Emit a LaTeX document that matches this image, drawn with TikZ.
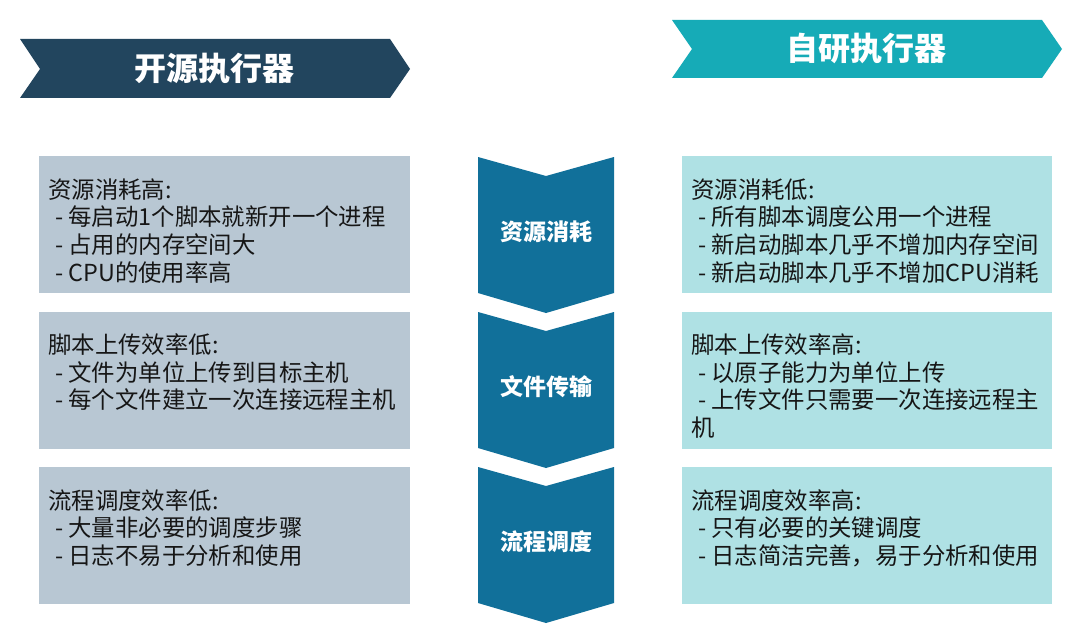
\documentclass[tikz,border=0pt]{standalone}
\usepackage{fontspec}
\setmainfont{Noto Sans CJK SC}
\newfontfamily\cjk{Noto Sans CJK SC}
\definecolor{hdrL}{HTML}{22455E}
\definecolor{hdrR}{HTML}{16ABB7}
\definecolor{chev}{HTML}{11709A}
\definecolor{boxL}{HTML}{B8C7D3}
\definecolor{boxR}{HTML}{AFE1E4}
\definecolor{txt}{HTML}{161616}
\begin{document}
\begin{tikzpicture}[x=1pt,y=-1pt,
  hdrtext/.style={text=white,font=\cjk\bfseries\fontsize{32}{36}\selectfont,inner sep=0pt},
  chevtext/.style={text=white,font=\cjk\bfseries\fontsize{23}{27}\selectfont,inner sep=0pt},
  bodytext/.style={text=txt,font=\cjk\fontsize{23.4}{27.7}\selectfont,align=left,inner sep=0pt,anchor=base west},
  lbox/.style={fill=boxL,draw=none},
  rbox/.style={fill=boxR,draw=none}]
\useasboundingbox (0,0) rectangle (1080,642);
\fill[white] (0,0) rectangle (1080,642);
% headers
\fill[hdrL] (20,39) -- (390,39) -- (410,69) -- (390,98) -- (20,98) -- (40,69) -- cycle;
\node[hdrtext] (hL) at (214,68) {开源执行器};
\fill[hdrR] (672,20) -- (1042,20) -- (1062,49) -- (1042,78) -- (672,78) -- (692,49) -- cycle;
\node[hdrtext] (hR) at (866,48) {自研执行器};
% middle chevrons
\foreach \k/\t in {0/资源消耗,1/文件传输,2/流程调度}{
  \pgfmathsetmacro\top{157+155*\k}
  \pgfmathsetmacro\bot{\top+136}
  \fill[chev] (478,\top) -- (546,\top+19) -- (614,\top) -- (614,\bot) -- (546,\bot+20) -- (478,\bot) -- cycle;
  \node[chevtext] (c\k) at (546,\top+75) {\t};
}
% boxes
\foreach \k in {0,1,2}{
  \pgfmathsetmacro\top{156+155.5*\k}
  \fill[lbox] (39,\top) rectangle (410,\top+137);
  \fill[rbox] (682,\top) rectangle (1052,\top+137);
}
% text nodes: anchor is the baseline of the last line
\node[bodytext] (l0) at (48,281.1) {资源消耗高:\\\hspace*{0.3em}- 每启动1个脚本就新开一个进程\\\hspace*{0.3em}- 占用的内存空间大\\\hspace*{0.3em}- CPU的使用率高};
\node[bodytext] (l1) at (48,408.9) {脚本上传效率低:\\\hspace*{0.3em}- 文件为单位上传到目标主机\\\hspace*{0.3em}- 每个文件建立一次连接远程主机};
\node[bodytext] (l2) at (48,564.4) {流程调度效率低:\\\hspace*{0.3em}- 大量非必要的调度步骤\\\hspace*{0.3em}- 日志不易于分析和使用};
\node[bodytext] (r0) at (691,281.1) {资源消耗低:\\\hspace*{0.3em}- 所有脚本调度公用一个进程\\\hspace*{0.3em}- 新启动脚本几乎不增加内存空间\\\hspace*{0.3em}- 新启动脚本几乎不增加CPU消耗};
\node[bodytext] (r1) at (691,436.6) {脚本上传效率高:\\\hspace*{0.3em}- 以原子能力为单位上传\\\hspace*{0.3em}- 上传文件只需要一次连接远程主\\机};
\node[bodytext] (r2) at (691,564.4) {流程调度效率高:\\\hspace*{0.3em}- 只有必要的关键调度\\\hspace*{0.3em}- 日志简洁完善，易于分析和使用};
\end{tikzpicture}
\end{document}
